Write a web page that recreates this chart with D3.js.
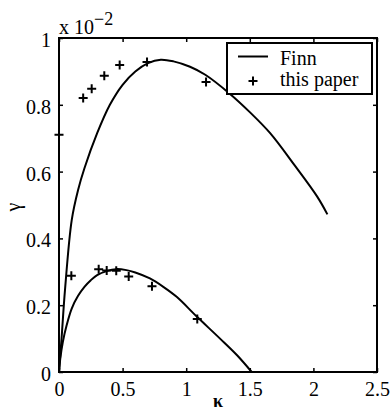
<!DOCTYPE html>
<html>
<head>
<meta charset="utf-8">
<script src="https://cdn.jsdelivr.net/npm/d3@7"></script>
<style>
  html, body { margin: 0; padding: 0; background: #fff; }
  svg { display: block; }
  svg text { font-family: "Liberation Serif", "Times New Roman", Times, "DejaVu Serif", serif !important; fill: #000; }
</style>
</head>
<body>
<svg id="chart" width="390" height="412"></svg>
<script>
// Growth rate gamma (x 10^-2) versus kappa: Finn's curves and the computed points
const finnUpperK = [0, 0.02, 0.047, 0.1, 0.15, 0.2, 0.3, 0.4, 0.5, 0.6, 0.7, 0.8, 0.9, 1.03, 1.15, 1.34, 1.5, 1.66, 1.85, 2.03, 2.11];
const finnUpperG = [0, 0.10, 0.245, 0.455, 0.545, 0.61, 0.715, 0.80, 0.86, 0.90, 0.925, 0.935, 0.93, 0.914, 0.89, 0.834, 0.778, 0.715, 0.62, 0.525, 0.472];

const finnLowerK = [0, 0.01, 0.03, 0.06, 0.1, 0.15, 0.2, 0.25, 0.3, 0.375, 0.45, 0.53, 0.6, 0.715, 0.82, 0.925, 1.083, 1.266, 1.4, 1.515];
const finnLowerG = [0, 0.04, 0.09, 0.14, 0.19, 0.228, 0.255, 0.275, 0.29, 0.302, 0.308, 0.305, 0.298, 0.28, 0.255, 0.225, 0.166, 0.10, 0.05, 0.0];

const paperUpperK = [0, 0.19, 0.257, 0.356, 0.477, 0.692, 1.156];
const paperUpperG = [0.71, 0.82, 0.848, 0.887, 0.919, 0.928, 0.868];

const paperLowerK = [0.097, 0.312, 0.375, 0.45, 0.548, 0.731, 1.087];
const paperLowerG = [0.288, 0.308, 0.304, 0.303, 0.286, 0.257, 0.159];

const xTicks = [0, 0.5, 1, 1.5, 2, 2.5];
const yTicks = [0, 0.2, 0.4, 0.6, 0.8, 1];
const legendLabels = ["Finn", "this paper"];

const svg = d3.select("#chart");
const plotL = 59, plotR = 377, plotT = 38, plotB = 372;

const x = d3.scaleLinear().domain([0, 2.5]).range([plotL, plotR]);
const y = d3.scaleLinear().domain([0, 1]).range([plotB, plotT]);

const fmt = d => String(d);

// Axes with inward ticks on all four sides
const gx = svg.append("g").attr("transform", `translate(0,${plotB})`)
  .call(d3.axisBottom(x).tickValues(xTicks).tickSize(-4).tickPadding(10).tickFormat(fmt));
const gxTop = svg.append("g").attr("transform", `translate(0,${plotT})`)
  .call(d3.axisTop(x).tickValues(xTicks).tickSize(-4).tickFormat(""));
const gy = svg.append("g").attr("transform", `translate(${plotL},0)`)
  .call(d3.axisLeft(y).tickValues(yTicks).tickSize(-4).tickPadding(8).tickFormat(fmt));
const gyRight = svg.append("g").attr("transform", `translate(${plotR},0)`)
  .call(d3.axisRight(y).tickValues(yTicks).tickSize(-4).tickFormat(""));

[gx, gxTop, gy, gyRight].forEach(g => {
  g.attr("font-family", null);
  g.select(".domain").remove();
  g.selectAll(".tick line").attr("stroke", "#000").attr("stroke-width", 1.5);
  g.selectAll(".tick text").attr("font-size", 20).attr("fill", "#000");
});
gx.selectAll(".tick text").attr("dy", "0.71em");
gy.selectAll(".tick text").attr("dy", "0.42em");

// Frame
svg.append("rect")
  .attr("x", plotL).attr("y", plotT)
  .attr("width", plotR - plotL).attr("height", plotB - plotT)
  .attr("fill", "none").attr("stroke", "#000").attr("stroke-width", 2);

// Finn curves
const line = d3.line().x(d => x(d[0])).y(d => y(d[1])).curve(d3.curveCatmullRom.alpha(0.5));
[[finnUpperK, finnUpperG], [finnLowerK, finnLowerG]].forEach(([ks, gs]) => {
  svg.append("path")
    .datum(ks.map((k, i) => [k, gs[i]]))
    .attr("d", line)
    .attr("fill", "none").attr("stroke", "#000").attr("stroke-width", 2);
});

// Computed points as plus markers
const plus = "M-4.5,0H4.5M0,-4.5V4.5";
const pts = paperUpperK.map((k, i) => [k, paperUpperG[i]])
  .concat(paperLowerK.map((k, i) => [k, paperLowerG[i]]));
svg.append("g").selectAll("path").data(pts).join("path")
  .attr("d", plus)
  .attr("transform", d => `translate(${x(d[0])},${y(d[1])})`)
  .attr("stroke", "#000").attr("stroke-width", 2).attr("fill", "none");

// Exponent label above the axes
const expo = svg.append("text").attr("x", plotL).attr("y", 34).attr("font-size", 20);
expo.append("tspan").text("x 10");
expo.append("tspan").attr("dy", -9).attr("font-size", 18).text("\u22122");

// Axis titles
svg.append("text")
  .attr("transform", `translate(20,${(plotT + plotB) / 2 + 2}) rotate(-90)`)
  .attr("text-anchor", "middle").attr("font-size", 20).text("\u03b3");
svg.append("text")
  .attr("x", x(1.25)).attr("y", 407)
  .attr("text-anchor", "middle").attr("font-size", 18).attr("font-weight", "bold").text("\u03ba");

// Legend
const lg = svg.append("g");
lg.append("rect")
  .attr("x", 227).attr("y", 43).attr("width", 145).attr("height", 51)
  .attr("fill", "#fff").attr("stroke", "#000").attr("stroke-width", 2);
lg.append("line")
  .attr("x1", 238).attr("x2", 268).attr("y1", 56.5).attr("y2", 56.5)
  .attr("stroke", "#000").attr("stroke-width", 2);
lg.append("path").attr("d", plus).attr("transform", "translate(253,81)")
  .attr("stroke", "#000").attr("stroke-width", 2);
lg.selectAll("text.lbl").data(legendLabels).join("text")
  .attr("class", "lbl")
  .attr("x", 280).attr("y", (d, i) => i === 0 ? 64.5 : 86)
  .attr("font-size", 20).text(d => d);
</script>
</body>
</html>
